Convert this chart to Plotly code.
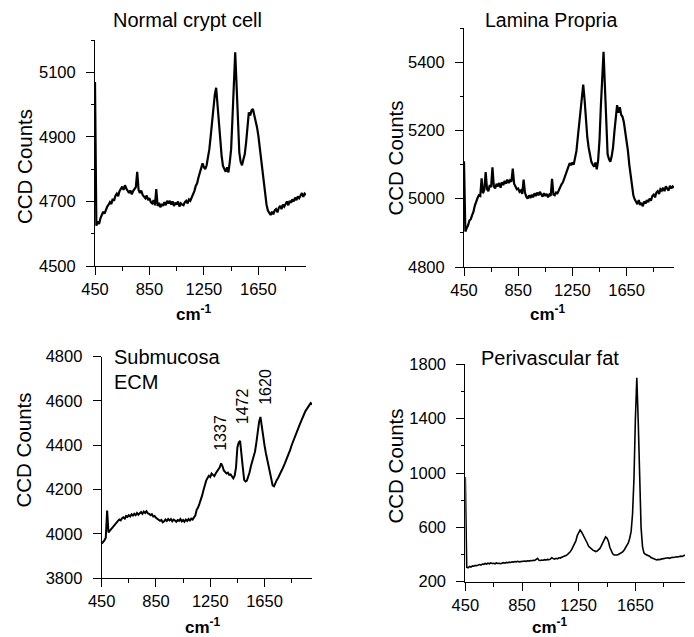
import plotly.graph_objects as go

# ---------------- data ----------------
wavenumber = list(range(450, 2001, 10))  # cm^-1 sampling grid

normal_crypt = [
    5070, 4625, 4638, 4630, 4648, 4656, 4668, 4662, 4676, 4684,
    4690, 4698, 4692, 4708, 4702, 4718, 4724, 4716, 4732, 4740,
    4746, 4736, 4750, 4740, 4734, 4726, 4734, 4722, 4732, 4738,
    4744, 4792, 4736, 4726, 4734, 4720, 4716, 4710, 4718, 4704,
    4710, 4698, 4694, 4704, 4688, 4738, 4686, 4696, 4682, 4692,
    4686, 4698, 4688, 4702, 4694, 4702, 4690, 4700, 4686, 4696,
    4690, 4700, 4684, 4694, 4690, 4688, 4698, 4702, 4694, 4706,
    4702, 4712, 4720, 4732, 4748, 4756, 4774, 4792, 4806, 4818,
    4806, 4800, 4812, 4832, 4862, 4902, 4950, 4988, 5030, 5052,
    4992, 4930, 4880, 4842, 4810, 4800, 4792, 4806, 4790, 4822,
    4862, 4960, 5080, 5162, 5060, 4940, 4852, 4822, 4812, 4830,
    4846, 4882, 4940, 4976, 4966, 4982, 4986, 4970, 4950, 4930,
    4904, 4868, 4828, 4784, 4744, 4714, 4690, 4672, 4664, 4658,
    4668, 4660, 4672, 4676, 4666, 4680, 4686, 4676, 4690, 4684,
    4692, 4700, 4688, 4702, 4696, 4706, 4700, 4712, 4704, 4716,
    4710, 4720, 4726, 4714, 4724, 4720,
]

lamina_propria = [
    5110, 4904, 4914, 4922, 4936, 4940, 4952, 4962, 4980, 4994,
    5002, 5010, 5008, 5060, 5016, 5026, 5078, 5028, 5022, 5040,
    5034, 5092, 5036, 5030, 5044, 5036, 5046, 5032, 5048, 5040,
    5052, 5044, 5056, 5046, 5054, 5050, 5088, 5044, 5034, 5028,
    5030, 5020, 5024, 5014, 5056, 5018, 5006, 5000, 5010, 5002,
    5012, 5004, 5016, 5008, 5018, 5010, 5020, 5012, 5006, 5016,
    5008, 5014, 5004, 5012, 5008, 5058, 5012, 5010, 5018, 5016,
    5026, 5032, 5042, 5048, 5060, 5070, 5084, 5094, 5104, 5098,
    5106, 5100, 5116, 5140, 5180, 5216, 5258, 5290, 5334, 5290,
    5232, 5180, 5150, 5124, 5108, 5100, 5094, 5106, 5086, 5112,
    5170, 5270, 5362, 5430, 5330, 5200, 5130, 5116, 5108, 5124,
    5150, 5196, 5240, 5274, 5252, 5268, 5246, 5240, 5224, 5200,
    5168, 5140, 5100, 5064, 5030, 5010, 4998, 4990, 4984, 4996,
    4982, 4988, 4978, 4992, 4986, 4996, 4990, 5000, 4994, 5008,
    5012, 5004, 5018, 5022, 5014, 5028, 5024, 5032, 5022, 5036,
    5030, 5024, 5038, 5030, 5036, 5032,
]

submucosa_ecm = [
    3955, 3962, 3970, 3982, 4105, 4006, 4014, 4022, 4030, 4038,
    4044, 4050, 4058, 4064, 4060, 4070, 4074, 4068, 4080, 4076,
    4084, 4078, 4088, 4082, 4090, 4084, 4094, 4086, 4092, 4098,
    4090, 4100, 4094, 4102, 4092, 4090, 4084, 4088, 4078, 4080,
    4072, 4068, 4064, 4058, 4062, 4052, 4056, 4064, 4058, 4066,
    4060, 4066, 4056, 4064, 4060, 4054, 4062, 4058, 4066, 4056,
    4062, 4054, 4064, 4058, 4066, 4060, 4068, 4064, 4074, 4082,
    4108, 4118, 4135, 4150, 4172, 4196, 4226, 4240, 4252, 4262,
    4256, 4272, 4266, 4260, 4272, 4280, 4288, 4300, 4318, 4306,
    4286, 4280, 4272, 4276, 4266, 4268, 4256, 4250, 4262, 4300,
    4390, 4412, 4420, 4372, 4300, 4244, 4236, 4240, 4258, 4278,
    4306, 4330, 4350, 4372, 4412, 4466, 4505, 4528, 4480, 4436,
    4400, 4365, 4332, 4300, 4270, 4245, 4218, 4214, 4230, 4242,
    4252, 4262, 4278, 4290, 4302, 4318, 4334, 4348, 4366, 4380,
    4400, 4414, 4430, 4448, 4462, 4478, 4494, 4510, 4520, 4534,
    4552, 4562, 4570, 4578, 4590, 4584,
]

perivascular_fat = [
    970, 306, 302, 312, 308, 316, 314, 320, 318, 324,
    326, 322, 330, 328, 334, 330, 336, 332, 338, 334,
    336, 332, 338, 334, 336, 332, 338, 340, 336, 342,
    340, 344, 342, 346, 344, 348, 346, 350, 346, 348,
    350, 348, 352, 350, 354, 352, 356, 354, 358, 356,
    362, 372, 358, 356, 360, 358, 362, 360, 364, 362,
    366, 376, 370, 366, 372, 368, 376, 374, 380, 384,
    386, 392, 400, 408, 420, 436, 455, 476, 500, 540,
    562, 580, 566, 548, 530, 507, 485, 460, 448, 438,
    432, 428, 422, 425, 432, 445, 465, 488, 515, 530,
    520, 496, 452, 425, 405, 396, 394, 396, 400, 406,
    410, 420, 432, 448, 462, 485, 520, 570, 700, 960,
    1400, 1700, 1380, 930, 600, 460, 412, 402, 398, 396,
    388, 378, 372, 366, 362, 360, 364, 362, 366, 368,
    370, 372, 374, 376, 372, 378, 380, 378, 382, 384,
    382, 386, 388, 386, 392, 396,
]

panel_titles = ["Normal crypt cell", "Lamina Propria", "Perivascular fat"]
peak_labels = ["1337", "1472", "1620"]
peak_label_x = [1329, 1488, 1661]
peak_label_y = [4456, 4574, 4664]

x_tickvals_start = 450
y_ranges = [[4500, 5200], [4800, 5500], [3800, 4800], [200, 1800]]
y_dticks = [200, 200, 200, 400]
y_minor = [100, 100, None, 200]
line_widths = [2.2, 2.2, 2.0, 1.6]

# ---------------- layout helpers ----------------
# the page body adds an 8 px offset, so the figure covers screen x/y 8..694/637
OFF = 8
W, H = 694 - OFF, 637 - OFF
FONT = "Arial, 'Liberation Sans', sans-serif"


def fx(x):
    return (x - OFF) / W


def fy(y):
    return 1 - (y - OFF) / H


# screen pixel boxes (left, right, bottom, top)
boxes = [
    (95, 306, 266, 40),
    (464, 674, 267, 28),
    (101.7, 312, 578, 356.7),
    (465.3, 685, 581.7, 364.3),
]

series = [normal_crypt, lamina_propria, submucosa_ecm, perivascular_fat]

fig = go.Figure()
layout = dict(
    width=W, height=H,
    margin=dict(l=0, r=0, t=0, b=0, autoexpand=False),
    paper_bgcolor="white", plot_bgcolor="white",
    showlegend=False,
    font=dict(family=FONT, color="black"),
)

for i, vals in enumerate(series):
    n = i + 1
    suffix = "" if n == 1 else str(n)
    fig.add_trace(go.Scatter(
        x=wavenumber, y=vals, mode="lines",
        line=dict(color="black", width=line_widths[i]),
        xaxis="x" + suffix, yaxis="y" + suffix,
        hoverinfo="skip",
    ))
    l, r, b, t = boxes[i]
    layout["xaxis" + suffix] = dict(
        domain=[fx(l), fx(r)], anchor="y" + suffix,
        range=[450, 2000], autorange=False, automargin=False,
        tickmode="linear", tick0=x_tickvals_start, dtick=400,
        ticks="outside", ticklen=8, tickwidth=1, tickcolor="black",
        showline=True, linecolor="black", linewidth=1,
        showgrid=False, zeroline=False,
        tickfont=dict(family=FONT, size=16.5, color="black"),
        ticklabelstandoff=0,
        minor=dict(tickmode="linear", tick0=450, dtick=200, ticks="outside",
                   ticklen=4, tickwidth=1, tickcolor="black", showgrid=False),
    )
    ydict = dict(
        domain=[fy(b), fy(t)], anchor="x" + suffix,
        range=y_ranges[i], autorange=False, automargin=False,
        tickmode="linear", tick0=y_ranges[i][0], dtick=y_dticks[i],
        ticks="outside", ticklen=8, tickwidth=1, tickcolor="black",
        showline=True, linecolor="black", linewidth=1,
        showgrid=False, zeroline=False,
        tickfont=dict(family=FONT, size=16.5, color="black"),
        ticklabelstandoff=7,
    )
    if y_minor[i]:
        ydict["minor"] = dict(tickmode="linear", tick0=y_ranges[i][0],
                              dtick=y_minor[i], ticks="outside", ticklen=3,
                              tickwidth=1, tickcolor="black", showgrid=False)
    layout["yaxis" + suffix] = ydict

ann = []


def paper_text(text, x, y, size, angle=0, xanchor="center"):
    ann.append(dict(
        text=text, x=fx(x), y=fy(y), xref="paper", yref="paper",
        xanchor=xanchor, yanchor="middle", showarrow=False,
        textangle=angle, font=dict(family=FONT, size=size, color="black"),
    ))


# panel titles
paper_text(panel_titles[0], 187.5, 20, 20)
paper_text(panel_titles[1], 550.5, 20, 19.5)
paper_text(panel_titles[2], 549.5, 358, 20)
paper_text("Submucosa", 111.7, 357, 20, xanchor="left")
paper_text("ECM", 111.7, 382, 20, xanchor="left")

# y titles
for (x, y) in [(24, 167), (394.5, 158), (22.5, 450), (394.5, 466)]:
    paper_text("CCD Counts", x, y, 20.5, angle=-90)

# x titles
for (x, y) in [(194, 313), (548, 313), (203, 626), (550, 626)]:
    paper_text("<b>cm<sup>-1</sup></b>", x, y, 17)

# peak labels on the submucosa panel
for lbl, px_, py_ in zip(peak_labels, peak_label_x, peak_label_y):
    ann.append(dict(
        text=lbl, x=px_, y=py_, xref="x3", yref="y3",
        xanchor="center", yanchor="middle", showarrow=False,
        textangle=-90, font=dict(family=FONT, size=16, color="black"),
    ))

layout["annotations"] = ann
fig.update_layout(**layout)
fig.write_html("out.html")
